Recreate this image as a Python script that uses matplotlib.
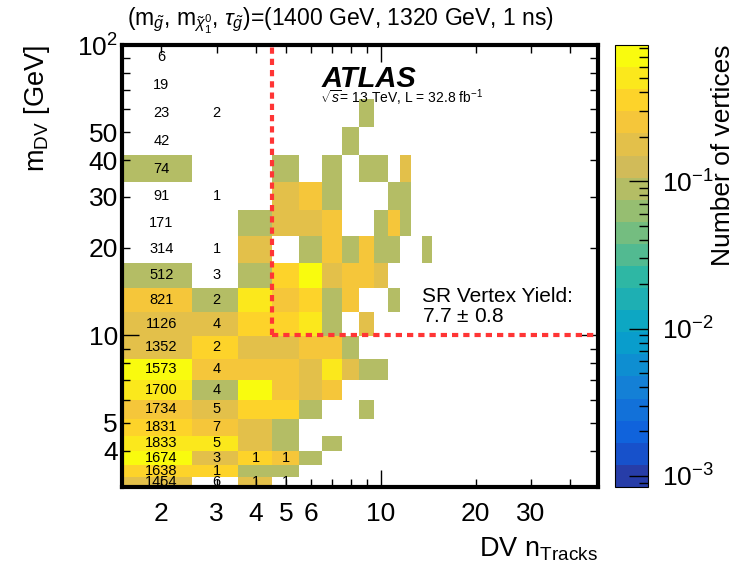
import numpy as np
import matplotlib
matplotlib.use('Agg')
import matplotlib.pyplot as plt
from matplotlib.colors import LinearSegmentedColormap, ListedColormap, LogNorm
from matplotlib.ticker import FixedLocator, FuncFormatter, NullFormatter, LogLocator

plt.rcParams['font.family'] = ['Liberation Sans', 'DejaVu Sans']
plt.rcParams['mathtext.fontset'] = 'custom'
plt.rcParams['mathtext.rm'] = 'Liberation Sans'
plt.rcParams['mathtext.it'] = 'Liberation Sans:italic'
plt.rcParams['mathtext.bf'] = 'Liberation Sans:bold'

# Binning: integer track multiplicities, variable-width mass bins
track_edges = [1.5, 2.5, 3.5, 4.5, 5.5, 6.5, 7.5, 8.5, 9.5, 10.5, 11.5, 12.5, 13.5, 14.5]
mass_edges = [3.0, 3.26, 3.58, 4.0, 4.51, 5.16, 5.98, 7.01, 8.31, 9.94, 12.0,
              14.6, 17.8, 22.0, 27.1, 33.6, 41.8, 52.1, 65.1, 81.4, 102.0]

# Expected signal vertices, rows from highest mass bin to lowest,
# columns nTracks = 2 ... 14
signal_rows = [
    [0, 0, 0, 0, 0, 0, 0, 0, 0, 0, 0, 0, 0],
    [0, 0, 0, 0, 0, 0, 0, 0, 0, 0, 0, 0, 0],
    [0, 0, 0, 0, 0, 0, 0, 0.09, 0, 0, 0, 0, 0],
    [0, 0, 0, 0, 0, 0, 0.09, 0, 0, 0, 0, 0, 0],
    [0.09, 0, 0, 0.09, 0, 0.09, 0, 0.09, 0.09, 0, 0.18, 0, 0],
    [0, 0, 0, 0.18, 0.25, 0.09, 0, 0, 0, 0.09, 0.09, 0, 0],
    [0, 0, 0.09, 0.18, 0.18, 0.25, 0, 0, 0.09, 0.25, 0.09, 0, 0],
    [0, 0, 0.18, 0, 0.09, 0.25, 0.09, 0.25, 0.09, 0.09, 0, 0, 0.09],
    [0.09, 0, 0.09, 0.36, 0.7, 0.18, 0.25, 0.25, 0.18, 0, 0, 0, 0],
    [0.25, 0.09, 0.5, 0.25, 0.36, 0.09, 0.25, 0, 0, 0.09, 0, 0, 0],
    [0.18, 0.18, 0.36, 0.36, 0.5, 0.09, 0, 0.18, 0, 0, 0, 0, 0],
    [0.18, 0.36, 0.18, 0.18, 0.25, 0.25, 0.09, 0, 0, 0, 0, 0, 0],
    [0.7, 0.25, 0.25, 0.25, 0.18, 0.5, 0.18, 0.09, 0.09, 0, 0, 0, 0],
    [0.5, 0.09, 0.7, 0.25, 0.18, 0.25, 0, 0, 0, 0, 0, 0, 0],
    [0.25, 0.18, 0.36, 0.36, 0.09, 0, 0, 0.09, 0, 0, 0, 0, 0],
    [0.36, 0.25, 0.18, 0.09, 0, 0, 0, 0, 0, 0, 0, 0, 0],
    [0.5, 0.5, 0.18, 0.09, 0, 0.09, 0, 0, 0, 0, 0, 0, 0],
    [0.7, 0.18, 0.36, 0.25, 0.09, 0, 0, 0, 0, 0, 0, 0, 0],
    [0.36, 0.36, 0.09, 0.09, 0, 0, 0, 0, 0, 0, 0, 0, 0],
    [0.18, 0, 0.18, 0, 0, 0, 0, 0, 0, 0, 0, 0, 0],
]

# Observed data counts per mass bin (lowest mass first) for nTracks = 2, 3, 4, 5
data_n2 = [1454, 1638, 1674, 1833, 1831, 1734, 1700, 1573, 1352, 1126,
           821, 512, 314, 171, 91, 74, 42, 23, 19, 6]
data_n3 = [6, 1, 3, 5, 7, 5, 4, 4, 2, 4, 2, 3, 1, 0, 1, 0, 0, 2, 0, 0]
data_n4 = [1, 0, 1, 0, 0, 0, 0, 0, 0, 0, 0, 0, 0, 0, 0, 0, 0, 0, 0, 0]
data_n5 = [1, 0, 1, 0, 0, 0, 0, 0, 0, 0, 0, 0, 0, 0, 0, 0, 0, 0, 0, 0]
data_tracks = [2, 3, 4, 5]

sr_tracks_min = 4.5
sr_mass_min = 10
sr_yield = '7.7 $\\pm$ 0.8'

# ROOT "bird" palette, 20 contour levels
bird_stops = [0.0, 0.125, 0.25, 0.375, 0.5, 0.625, 0.75, 0.875, 1.0]
bird_r = [0.2082, 0.0592, 0.0780, 0.0232, 0.1802, 0.5301, 0.8186, 0.9956, 0.9764]
bird_g = [0.1664, 0.3599, 0.5041, 0.6419, 0.7178, 0.7492, 0.7328, 0.7862, 0.9832]
bird_b = [0.5293, 0.8684, 0.8385, 0.7914, 0.6425, 0.4662, 0.3499, 0.1968, 0.0539]
bird = LinearSegmentedColormap.from_list(
    'bird', list(zip(bird_stops, zip(bird_r, bird_g, bird_b))), N=255)
n_levels = 20
cmap = ListedColormap([bird(int((k + 0.99) * 255 / n_levels) / 254) for k in range(n_levels)])
norm = LogNorm(vmin=8.4e-4, vmax=0.84)

fig = plt.figure(figsize=(7.48, 5.66), dpi=100)
ax = fig.add_axes([122 / 748, 1 - 487 / 566, 476 / 748, 442 / 566])
cax = fig.add_axes([615 / 748, 1 - 487 / 566, 33 / 748, 442 / 566])

signal = np.ma.masked_equal(np.array(signal_rows[::-1], dtype=float), 0)
mesh = ax.pcolormesh(track_edges, mass_edges, signal, cmap=cmap, norm=norm)

# data counts written on top of the signal cells
mass_centres = np.sqrt(np.array(mass_edges[:-1]) * np.array(mass_edges[1:]))
for n, counts in zip(data_tracks, [data_n2, data_n3, data_n4, data_n5]):
    for m, c in zip(mass_centres, counts):
        if c > 0:
            ax.text(n, m, str(c), ha='center', va='center', fontsize=10.5, clip_on=True)

# signal region boundary
red = '#ff3535'
ax.plot([sr_tracks_min, sr_tracks_min], [sr_mass_min, 100], color=red, lw=3,
        dashes=(1.5, 1.2), clip_on=False, zorder=3)
ax.plot([sr_tracks_min, 49], [sr_mass_min, sr_mass_min], color=red, lw=3,
        dashes=(1.5, 1.2), clip_on=False, zorder=3)

ax.set_xscale('log')
ax.set_yscale('log')
ax.set_xlim(1.5, 49)
ax.set_ylim(3, 100)

x_labels = {2: '2', 3: '3', 4: '4', 5: '5', 6: '6', 20: '20', 30: '30'}
y_labels = {4: '4', 5: '5', 20: '20', 30: '30', 40: '40', 50: '50'}
ax.xaxis.set_major_locator(FixedLocator([10]))
ax.xaxis.set_minor_locator(FixedLocator([2, 3, 4, 5, 6, 7, 8, 9, 20, 30, 40]))
ax.xaxis.set_major_formatter(FuncFormatter(lambda v, p: '10'))
ax.xaxis.set_minor_formatter(FuncFormatter(lambda v, p: x_labels.get(int(round(v)), '')))
ax.yaxis.set_major_locator(FixedLocator([10, 100]))
ax.yaxis.set_minor_locator(FixedLocator([4, 5, 6, 7, 8, 9, 20, 30, 40, 50, 60, 70, 80, 90]))
ax.yaxis.set_major_formatter(FuncFormatter(lambda v, p: '10' if v < 50 else '$10^{2}$'))
ax.yaxis.set_minor_formatter(FuncFormatter(lambda v, p: y_labels.get(int(round(v)), '')))

ax.tick_params(which='both', direction='in', top=True, right=True, labelsize=19, width=1)
ax.tick_params(which='major', length=12)
ax.tick_params(which='minor', length=6)
ax.tick_params(axis='x', which='both', pad=11)
ax.tick_params(axis='y', which='both', pad=3)
for s in ax.spines.values():
    s.set_linewidth(3)

ax.set_ylabel('m$_{\\rm DV}$ [GeV]', fontsize=19.5, loc='top')
ax.yaxis.set_label_coords(-0.148, 1.0)
ax.set_xlabel('DV n$_{\\rm Tracks}$', fontsize=19.5, loc='right')
ax.xaxis.set_label_coords(1.0, -0.11)

ax.text(0.42, 0.905, 'ATLAS', transform=ax.transAxes, fontsize=21,
        fontweight='bold', fontstyle='italic', va='baseline')
ax.text(0.415, 0.868, '$\\sqrt{s}$= 13 TeV, L = 32.8 fb$^{-1}$', transform=ax.transAxes,
        fontsize=10, va='baseline')
ax.text(0.63, 0.418, 'SR Vertex Yield:', transform=ax.transAxes, fontsize=15, va='baseline')
ax.text(0.63, 0.373, sr_yield, transform=ax.transAxes, fontsize=15, va='baseline')

fig.text(127 / 748, 1 - 26 / 566,
         '(m$_{\\tilde{g}}$, m$_{\\tilde{\\chi}^{0}_{1}}$, $\\tau_{\\tilde{g}}$)=(1400 GeV, 1320 GeV, 1 ns)',
         fontsize=16.5, ha='left', va='baseline')

cbar = fig.colorbar(mesh, cax=cax)
cbar.outline.set_linewidth(0.8)
cax.yaxis.set_ticks_position('right')
cax.yaxis.set_major_locator(FixedLocator([1e-3, 1e-2, 1e-1]))
cax.yaxis.set_major_formatter(FuncFormatter(lambda v, p: '$10^{%d}$' % int(round(np.log10(v)))))
cax.yaxis.set_minor_locator(LogLocator(subs=np.arange(2, 10)))
cax.yaxis.set_minor_formatter(NullFormatter())
cax.tick_params(which='both', direction='in', labelsize=19, width=1, pad=10)
cax.tick_params(which='major', length=14)
cax.tick_params(which='minor', length=6.5)
cbar.set_label('Number of vertices', fontsize=19, loc='top')
cax.yaxis.set_label_coords(2.9, 1.0)

fig.savefig('out.png', dpi=100)
